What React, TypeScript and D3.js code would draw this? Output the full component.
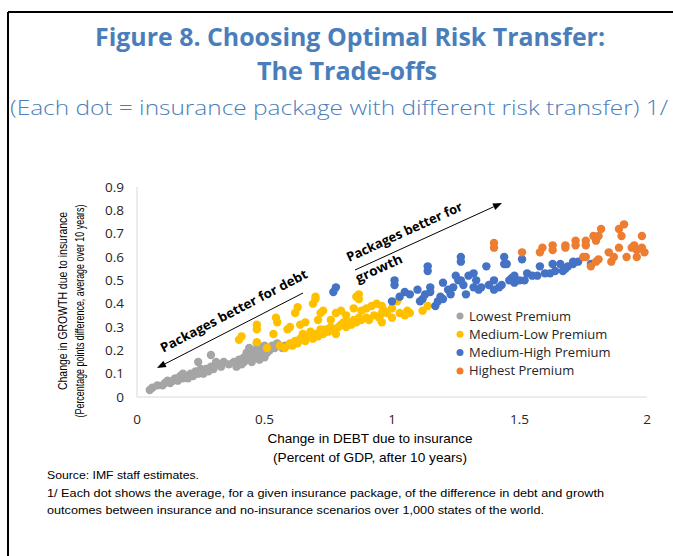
import React from "react";
import * as d3 from "d3";

// [debt change, growth change] per insurance package
const lowest: [number, number][] = [
  [0.05, 0.03], [0.06, 0.04], [0.08, 0.05], [0.1, 0.05], [0.11, 0.06], [0.12, 0.07], [0.13, 0.06],
  [0.14, 0.07], [0.15, 0.08], [0.16, 0.07], [0.17, 0.09], [0.18, 0.1], [0.18, 0.08], [0.19, 0.09],
  [0.2, 0.08], [0.21, 0.1], [0.22, 0.09], [0.23, 0.11], [0.24, 0.1], [0.24, 0.15], [0.25, 0.12],
  [0.26, 0.1], [0.27, 0.12], [0.28, 0.11], [0.29, 0.13], [0.29, 0.18], [0.3, 0.12], [0.31, 0.14],
  [0.31, 0.15], [0.33, 0.13], [0.34, 0.15], [0.36, 0.14], [0.38, 0.15], [0.39, 0.13], [0.4, 0.16],
  [0.41, 0.14], [0.42, 0.17], [0.42, 0.15], [0.43, 0.19], [0.44, 0.16], [0.44, 0.21], [0.45, 0.18],
  [0.45, 0.15], [0.46, 0.2], [0.46, 0.17], [0.47, 0.19], [0.47, 0.23], [0.48, 0.16], [0.48, 0.21],
  [0.49, 0.18], [0.49, 0.2], [0.5, 0.17], [0.5, 0.22], [0.51, 0.19], [0.51, 0.21], [0.52, 0.2],
  [0.53, 0.22], [0.54, 0.21], [0.55, 0.23], [0.57, 0.21], [0.58, 0.22],
];

const mediumLow: [number, number][] = [
  [0.4, 0.245], [0.41, 0.26], [0.47, 0.29], [0.47, 0.31], [0.47, 0.235], [0.51, 0.21], [0.535, 0.27],
  [0.545, 0.34], [0.55, 0.32], [0.59, 0.29], [0.6, 0.3], [0.62, 0.36], [0.63, 0.385], [0.64, 0.31],
  [0.66, 0.32], [0.69, 0.4], [0.7, 0.43], [0.7, 0.42], [0.71, 0.33], [0.72, 0.36], [0.73, 0.37],
  [0.76, 0.33], [0.78, 0.36], [0.8, 0.37], [0.82, 0.35], [0.85, 0.38], [0.86, 0.43], [0.87, 0.42],
  [0.87, 0.44], [0.88, 0.37], [0.9, 0.38], [0.92, 0.39], [0.94, 0.4], [0.96, 0.39], [0.97, 0.37],
  [1.02, 0.41], [1.0, 0.38], [1.06, 0.37], [1.07, 0.36], [1.12, 0.37], [1.14, 0.39],
  [0.56, 0.22], [0.58, 0.21], [0.6, 0.23], [0.61, 0.22], [0.62, 0.24], [0.63, 0.23], [0.64, 0.25],
  [0.65, 0.27], [0.66, 0.24], [0.67, 0.26], [0.68, 0.28], [0.69, 0.25], [0.7, 0.27], [0.71, 0.26],
  [0.72, 0.29], [0.73, 0.27], [0.74, 0.29], [0.75, 0.28], [0.76, 0.3], [0.77, 0.29], [0.78, 0.27],
  [0.79, 0.3], [0.8, 0.31], [0.81, 0.32], [0.82, 0.3], [0.83, 0.32], [0.84, 0.31], [0.85, 0.33],
  [0.86, 0.32], [0.87, 0.34], [0.88, 0.33], [0.9, 0.34], [0.91, 0.33], [0.93, 0.35], [0.95, 0.34],
  [0.96, 0.36], [0.96, 0.32], [0.98, 0.36], [1.0, 0.34], [1.03, 0.36], [1.05, 0.35],
];

const mediumHigh: [number, number][] = [
  [0.77, 0.45], [0.78, 0.47], [1.01, 0.48], [1.01, 0.5], [1.0, 0.41], [1.03, 0.43], [1.05, 0.45],
  [1.07, 0.44], [1.1, 0.46], [1.11, 0.41], [1.12, 0.42], [1.13, 0.44], [1.14, 0.54], [1.14, 0.56],
  [1.15, 0.47], [1.15, 0.45], [1.17, 0.39], [1.18, 0.41], [1.19, 0.43], [1.2, 0.42], [1.2, 0.49],
  [1.22, 0.46], [1.23, 0.44], [1.24, 0.47], [1.25, 0.52], [1.26, 0.5], [1.27, 0.58], [1.27, 0.6],
  [1.27, 0.5], [1.28, 0.48], [1.29, 0.44], [1.3, 0.52], [1.32, 0.53], [1.32, 0.47], [1.33, 0.5],
  [1.34, 0.46], [1.35, 0.47], [1.37, 0.56], [1.38, 0.48], [1.4, 0.5], [1.4, 0.46], [1.42, 0.47],
  [1.43, 0.48], [1.44, 0.6], [1.44, 0.57], [1.45, 0.57], [1.46, 0.5], [1.47, 0.51], [1.48, 0.49],
  [1.48, 0.52], [1.5, 0.5], [1.51, 0.59], [1.52, 0.5], [1.53, 0.53], [1.55, 0.52], [1.57, 0.52],
  [1.58, 0.56], [1.6, 0.53], [1.62, 0.53], [1.63, 0.57], [1.64, 0.54], [1.66, 0.57], [1.67, 0.54],
  [1.68, 0.55], [1.69, 0.56], [1.71, 0.58], [1.71, 0.57], [1.73, 0.58], [1.78, 0.57],
];

const highest: [number, number][] = [
  [1.4, 0.66], [1.4, 0.64], [1.51, 0.62], [1.58, 0.62], [1.59, 0.64], [1.63, 0.65], [1.63, 0.63],
  [1.68, 0.65], [1.68, 0.64], [1.72, 0.67], [1.72, 0.65], [1.76, 0.67], [1.76, 0.65], [1.79, 0.69],
  [1.8, 0.67], [1.82, 0.72], [1.81, 0.69], [1.75, 0.6], [1.76, 0.6], [1.78, 0.56], [1.8, 0.58],
  [1.81, 0.59], [1.85, 0.62], [1.86, 0.58], [1.87, 0.6], [1.89, 0.72], [1.9, 0.69], [1.91, 0.74],
  [1.89, 0.64], [1.94, 0.64], [1.95, 0.65], [1.96, 0.63], [1.98, 0.69], [1.99, 0.62], [1.96, 0.6],
  [1.98, 0.64], [1.92, 0.6],
];

const seriesNames = ["Lowest Premium", "Medium-Low Premium", "Medium-High Premium", "Highest Premium"];
const seriesColors = ["#a5a5a5", "#ffc000", "#4472c4", "#ed7d31"];
const seriesData = [lowest, mediumLow, mediumHigh, highest];

const xTicks = [0, 0.5, 1, 1.5, 2];
const yTicks = [0, 0.1, 0.2, 0.3, 0.4, 0.5, 0.6, 0.7, 0.8, 0.9];

const W = 673;
const H = 556;
const titleColor = "#4a7ebb";

export default function App() {
  const x = d3.scaleLinear().domain([0, 2]).range([137, 647]);
  const y = d3.scaleLinear().domain([0, 0.9]).range([397, 187]);
  const fmt = d3.format("");

  const narrow = "'Liberation Sans Narrow', 'Liberation Sans', Arial, sans-serif";
  const sans = "'Open Sans', 'Noto Sans', sans-serif";

  // arrow helper
  const arrow = (x1: number, y1: number, x2: number, y2: number) => {
    const a = Math.atan2(y2 - y1, x2 - x1);
    const len = 9, wid = 3.5;
    const bx = x2 - len * Math.cos(a), by = y2 - len * Math.sin(a);
    const p = [
      [x2, y2],
      [bx + wid * Math.sin(a), by - wid * Math.cos(a)],
      [bx - wid * Math.sin(a), by + wid * Math.cos(a)],
    ];
    return (
      <g>
        <line x1={x1} y1={y1} x2={bx} y2={by} stroke="#000" strokeWidth={1} />
        <polygon points={p.map((q) => q.join(",")).join(" ")} fill="#000" />
      </g>
    );
  };

  return (
    <svg width={W} height={H} style={{ position: "absolute", left: 0, top: 0, background: "#fff" }}>
      <rect x={0} y={0} width={W} height={H} fill="#fff" />
      {/* frame */}
      <line x1={8} y1={12} x2={W} y2={12} stroke="#000" strokeWidth={2} />
      <line x1={8} y1={12} x2={8} y2={H} stroke="#000" strokeWidth={2} />

      {/* titles */}
      <g fill={titleColor} fontFamily={sans} textAnchor="middle">
        <text x={350} y={46} fontSize={25} fontWeight="bold" textLength={510} lengthAdjust="spacingAndGlyphs">
          Figure 8. Choosing Optimal Risk Transfer:
        </text>
        <text x={347} y={80} fontSize={25} fontWeight="bold" textLength={180} lengthAdjust="spacingAndGlyphs">
          The Trade-offs
        </text>
        <text x={339} y={115} fontSize={21} fontWeight={300} textLength={658} lengthAdjust="spacingAndGlyphs">
          (Each dot = insurance package with different risk transfer) 1/
        </text>
      </g>

      {/* axes */}
      <line x1={x(0)} y1={y(0.9)} x2={x(0)} y2={y(0)} stroke="#d9d9d9" />
      <line x1={x(0)} y1={y(0)} x2={x(2)} y2={y(0)} stroke="#d9d9d9" />
      <g fontFamily={sans} fontSize={13.5} fill="#262626">
        {yTicks.map((t) => (
          <text key={t} x={124} y={y(t) + 4.5} textAnchor="end">
            {fmt(t)}
          </text>
        ))}
        {xTicks.map((t) => (
          <text key={t} x={x(t)} y={424} textAnchor="middle">
            {fmt(t)}
          </text>
        ))}
      </g>

      {/* axis titles */}
      <g fontFamily={narrow} fontSize={13} fill="#000" textAnchor="middle">
        <text x={370} y={443} textLength={205} lengthAdjust="spacingAndGlyphs">
          Change in DEBT due to insurance
        </text>
        <text x={370} y={462} textLength={194} lengthAdjust="spacingAndGlyphs">
          (Percent of GDP, after 10 years)
        </text>
        <text transform="translate(67,301) rotate(-90)" textLength={178} lengthAdjust="spacingAndGlyphs">
          Change in GROWTH due to insurance
        </text>
        <text transform="translate(84,311) rotate(-90)" textLength={213} lengthAdjust="spacingAndGlyphs">
          (Percentage points difference, average over 10 years)
        </text>
      </g>

      {/* dots */}
      {seriesData.map((data, i) => (
        <g key={seriesNames[i]} fill={seriesColors[i]}>
          {data.map((d, j) => (
            <circle key={j} cx={x(d[0])} cy={y(d[1])} r={4.2} />
          ))}
        </g>
      ))}

      {/* annotations */}
      {arrow(303, 293, 157, 368)}
      <text
        transform="translate(236,315) rotate(-27.5)"
        fontFamily={sans}
        fontSize={13}
        fontWeight="bold"
        textAnchor="middle"
        textLength={164}
        lengthAdjust="spacingAndGlyphs"
      >
        Packages better for debt
      </text>
      {arrow(355, 270, 502, 203)}
      <g fontFamily={sans} fontSize={13} fontWeight="bold">
        <text transform="translate(349,262) rotate(-24.5)" textLength={126} lengthAdjust="spacingAndGlyphs">
          Packages better for
        </text>
        <text transform="translate(358,283) rotate(-24.5)" textLength={50} lengthAdjust="spacingAndGlyphs">
          growth
        </text>
      </g>

      {/* legend */}
      <g fontFamily={sans} fontSize={13} fill="#262626">
        {seriesNames.map((n, i) => (
          <g key={n} transform={`translate(460,${316 + i * 18.3})`}>
            <circle cx={0} cy={0} r={3.5} fill={seriesColors[i]} />
            <text x={9} y={4.5}>
              {n}
            </text>
          </g>
        ))}
      </g>

      {/* notes */}
      <g fontFamily={narrow} fontSize={11.5} fill="#000">
        <text x={47} y={479} textLength={152} lengthAdjust="spacingAndGlyphs">
          Source: IMF staff estimates.
        </text>
        <text x={47} y={497} textLength={557} lengthAdjust="spacingAndGlyphs">
          1/ Each dot shows the average, for a given insurance package, of the difference in debt and growth
        </text>
        <text x={47} y={514} textLength={497} lengthAdjust="spacingAndGlyphs">
          outcomes between insurance and no-insurance scenarios over 1,000 states of the world.
        </text>
      </g>
    </svg>
  );
}
